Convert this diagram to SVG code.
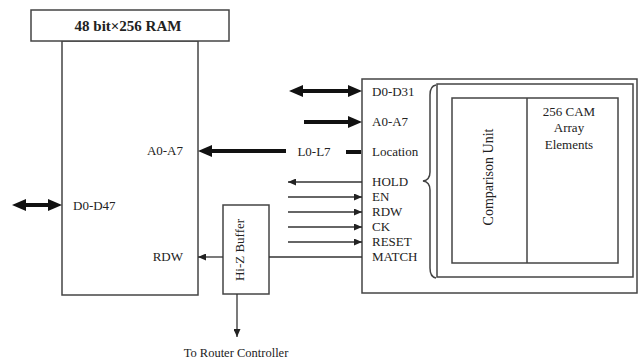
<svg xmlns="http://www.w3.org/2000/svg" width="638" height="361" viewBox="0 0 638 361">
<style>
.box{fill:#fff;stroke:#444;stroke-width:1.5}
.ln{fill:none;stroke:#444;stroke-width:1.5}
.t{font-family:"Liberation Serif","Times New Roman",serif;font-size:13px;fill:#222}
.b{font-weight:bold;font-size:15px}
.thick{stroke:#111;stroke-width:4;fill:none}
.thin{stroke:#333;stroke-width:1.3;fill:none}
</style>
<defs>
<marker id="ah" markerUnits="userSpaceOnUse" markerWidth="14" markerHeight="12" refX="4" refY="6" orient="auto-start-reverse"><path d="M0,0 L14,6 L0,12 Z" fill="#111"/></marker>
<marker id="as" markerUnits="userSpaceOnUse" markerWidth="8" markerHeight="7" refX="8" refY="3.5" orient="auto-start-reverse"><path d="M0,0 L8,3.5 L0,7 Z" fill="#222"/></marker>
</defs>

<g id="ram">
<rect class="box" x="62" y="41" width="136" height="254"/>
<rect class="box" x="31" y="10" width="198" height="31"/>
<text class="t b" x="128" y="31" text-anchor="middle">48 bit×256 RAM</text>
<text class="t" x="183" y="155" text-anchor="end">A0-A7</text>
<text class="t" x="73" y="210">D0-D47</text>
<text class="t" x="183" y="261" text-anchor="end">RDW</text>
</g>

<g id="buffer">
<rect class="box" x="223" y="205" width="46" height="89"/>
<text class="t" transform="translate(244,250) rotate(-90)" text-anchor="middle">Hi-Z Buffer</text>
</g>

<g id="cam">
<rect class="box" x="362" y="79" width="275" height="214"/>
<rect class="box" x="437" y="84" width="196" height="193"/>
<rect class="box" x="452" y="98" width="166" height="165"/>
<line class="ln" x1="527" y1="98" x2="527" y2="263"/>
<path class="ln" d="M436,85 Q430,86 430,95 L430,172 Q430,180 423,181 Q430,182 430,190 L430,268 Q430,277 436,278"/>
<text class="t" transform="translate(493,177) rotate(-90)" text-anchor="middle" style="font-size:14px">Comparison Unit</text>
<text class="t" x="569" y="116" text-anchor="middle">256 CAM</text>
<text class="t" x="569" y="132" text-anchor="middle">Array</text>
<text class="t" x="569" y="149" text-anchor="middle">Elements</text>
<text class="t" x="372" y="96">D0-D31</text>
<text class="t" x="372" y="126">A0-A7</text>
<text class="t" x="372" y="156">Location</text>
<text class="t" x="372" y="186">HOLD</text>
<text class="t" x="372" y="201">EN</text>
<text class="t" x="372" y="216">RDW</text>
<text class="t" x="372" y="231">CK</text>
<text class="t" x="372" y="246">RESET</text>
<text class="t" x="372" y="261">MATCH</text>
</g>

<g id="connectors">
<line class="thick" x1="22" y1="205" x2="52" y2="205" marker-start="url(#ah)" marker-end="url(#ah)"/>
<line class="thick" x1="299" y1="91" x2="352" y2="91" marker-start="url(#ah)" marker-end="url(#ah)"/>
<line class="thick" x1="304" y1="122" x2="352" y2="122" marker-end="url(#ah)"/>
<line class="thick" x1="361" y1="152" x2="346" y2="152"/>
<text class="t" x="314" y="156" text-anchor="middle">L0-L7</text>
<line class="thick" x1="286" y1="151" x2="208" y2="151" marker-end="url(#ah)"/>
<line class="thin" x1="362" y1="182" x2="288" y2="182" marker-end="url(#as)"/>
<line class="thin" x1="288" y1="197" x2="362" y2="197" marker-end="url(#as)"/>
<line class="thin" x1="288" y1="212" x2="362" y2="212" marker-end="url(#as)"/>
<line class="thin" x1="288" y1="227" x2="362" y2="227" marker-end="url(#as)"/>
<line class="thin" x1="288" y1="242" x2="362" y2="242" marker-end="url(#as)"/>
<line class="thin" x1="269" y1="257" x2="362" y2="257"/>
<line class="thin" x1="223" y1="257" x2="198" y2="257" marker-end="url(#as)"/>
<line class="thin" x1="237" y1="294" x2="237" y2="337" marker-end="url(#as)"/>
<text class="t" x="236" y="357" text-anchor="middle" style="font-size:12.5px">To Router Controller</text>
</g>
</svg>
